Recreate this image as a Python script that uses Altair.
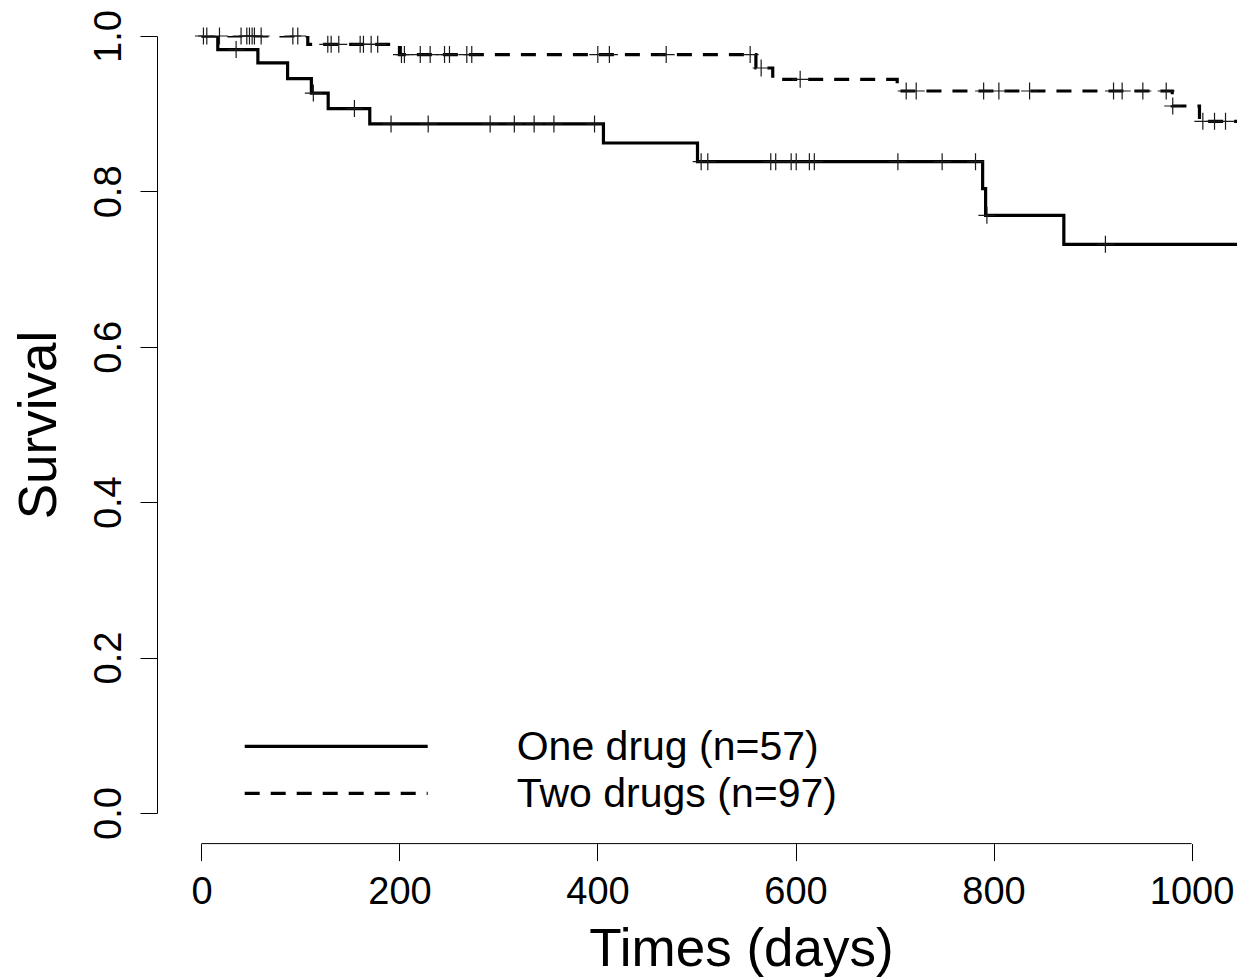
import altair as alt
import pandas as pd

# ---- data ----
# One drug (n=57): Kaplan-Meier step curve
one_times = [0, 16.5, 57, 87, 111, 128, 170, 406, 501, 789, 792, 871, 1046]
one_surv = [1.0, 0.9825, 0.9653, 0.9452, 0.9266, 0.9066, 0.8868, 0.8623, 0.8383,
            0.8036, 0.7692, 0.7319, 0.7319]
one_censor = [35, 113, 154.5, 191.5, 229, 291.6, 316, 336, 356, 397, 504.7, 511.4,
              575, 580, 595.6, 600.7, 614, 619, 703.4, 748.1, 781.8, 793.3, 913]

# Two drugs (n=97)
two_times = [0, 107.4, 200, 560, 577, 702.7, 980.5, 1008, 1046]
two_surv = [1.0, 0.9893, 0.9761, 0.9588, 0.9443, 0.9292, 0.9099, 0.8902, 0.8902]
two_censor = [2, 5.4, 18.2, 40, 45.8, 48.5, 51.2, 53.5, 60.3, 92.3, 97.3,
              127.6, 131, 138.7, 160.3, 163.6, 171.4, 178,
              202, 205, 221, 231, 245.5, 250.5, 268, 273,
              400.3, 412, 469.4, 554.2, 565.3, 604.7,
              711.8, 721.9, 790, 805.4, 836.4, 921.2, 929.9, 950.8, 974.4, 981,
              1011.4, 1023.2, 1034.3]

x_ticks = [0, 200, 400, 600, 800, 1000]
y_ticks = [0.0, 0.2, 0.4, 0.6, 0.8, 1.0]
legend_labels = ["One drug (n=57)", "Two drugs (n=97)"]

FONT = "Liberation Sans"


def surv_at(t, times, surv):
    s = surv[0]
    for ti, si in zip(times, surv):
        if ti <= t:
            s = si
    return s


one_df = pd.DataFrame({"time": one_times, "surv": one_surv})
two_df = pd.DataFrame({"time": two_times, "surv": two_surv})
one_c = pd.DataFrame({"time": one_censor,
                      "surv": [surv_at(t, one_times, one_surv) for t in one_censor]})
two_c = pd.DataFrame({"time": two_censor,
                      "surv": [surv_at(t, two_times, two_surv) for t in two_censor]})

xscale = alt.Scale(domain=[-44.9, 1045.9], nice=False, zero=False)
yscale = alt.Scale(domain=[0, 1], nice=False, zero=False)

x_axis = alt.Axis(values=x_ticks, format="d", tickSize=17, domain=False, offset=30.6,
                  labelFontSize=38, labelFont=FONT, labelColor="black",
                  labelBaseline="alphabetic", labelPadding=42.7,
                  labelFlush=False, labelOverlap=False, grid=False,
                  tickColor="black", tickWidth=1,
                  title="Times (days)", titleFont=FONT, titleFontSize=53,
                  titleFontWeight="normal", titleColor="black",
                  titleX=584, titleY=121.5, titleAlign="center",
                  titleBaseline="alphabetic")

y_axis = alt.Axis(values=y_ticks, format=".1f", tickSize=17,
                  labelAngle=270, labelAlign="center", labelBaseline="alphabetic",
                  labelPadding=20, labelFontSize=38, labelFont=FONT,
                  labelColor="black", labelFlush=False, labelOverlap=False,
                  domainColor="black", domainWidth=1, tickColor="black", tickWidth=1,
                  grid=False,
                  title="Survival", titleFont=FONT, titleFontSize=53,
                  titleFontWeight="normal", titleColor="black",
                  titleX=-102, titleY=388.5, titleAngle=270, titleAlign="center",
                  titleBaseline="alphabetic")

plus = "M-1,0L1,0M0,-1L0,1"

line_one = alt.Chart(one_df).mark_line(
    interpolate="step-after", color="black", strokeWidth=3.2, clip=True
).encode(
    x=alt.X("time:Q", scale=xscale, axis=x_axis),
    y=alt.Y("surv:Q", scale=yscale, axis=y_axis),
)

line_two = alt.Chart(two_df).mark_line(
    interpolate="step-after", color="black", strokeWidth=3.2,
    strokeDash=[15, 11], clip=True
).encode(x="time:Q", y="surv:Q")

cens_one = alt.Chart(one_c).mark_point(
    shape=plus, size=289, filled=False, stroke="#1a1a1a", strokeWidth=1.2, opacity=1
).encode(x="time:Q", y="surv:Q")

cens_two = alt.Chart(two_c).mark_point(
    shape=plus, size=289, filled=False, stroke="#1a1a1a", strokeWidth=1.2, opacity=1
).encode(x="time:Q", y="surv:Q")

# x axis line spanning first to last tick (R style)
axis_df = pd.DataFrame({"x0": [x_ticks[0]], "x1": [x_ticks[-1]]})
x_line = alt.Chart(axis_df).mark_rule(color="black", strokeWidth=1).encode(
    x="x0:Q", x2="x1:Q", y=alt.value(807.6)
)

# legend
leg_df = pd.DataFrame({"label": legend_labels})
leg_line1 = alt.Chart(leg_df.iloc[[0]]).mark_rule(color="black", strokeWidth=3.2).encode(
    x=alt.value(87.7), x2=alt.value(270.7), y=alt.value(710.3)
)
leg_line2 = alt.Chart(leg_df.iloc[[1]]).mark_rule(
    color="black", strokeWidth=3.2, strokeDash=[15, 11]
).encode(x=alt.value(87.7), x2=alt.value(270.7), y=alt.value(757.3))
leg_text1 = alt.Chart(leg_df.iloc[[0]]).mark_text(
    font=FONT, fontSize=41, align="left", baseline="alphabetic", color="black"
).encode(text="label:N", x=alt.value(359.7), y=alt.value(724.3))
leg_text2 = alt.Chart(leg_df.iloc[[1]]).mark_text(
    font=FONT, fontSize=41, align="left", baseline="alphabetic", color="black"
).encode(text="label:N", x=alt.value(359.7), y=alt.value(771.3))

chart = alt.layer(
    line_one, line_two, cens_one, cens_two, x_line,
    leg_line1, leg_line2, leg_text1, leg_text2
).properties(
    width=1080, height=777,
    autosize=alt.AutoSizeParams(type="none"),
    padding={"left": 157, "top": 36, "right": 0, "bottom": 166},
    background="white",
).configure_view(stroke=None)

chart.save("out.html", embed_options={"renderer": "svg", "actions": False})
